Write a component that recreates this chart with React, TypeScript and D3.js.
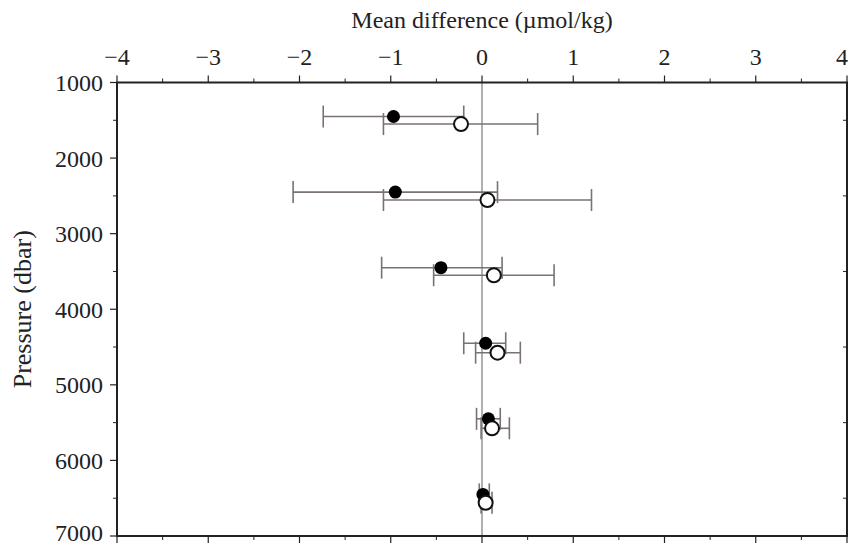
import React from "react";
import * as d3 from "d3";

const pressureFilled = [1450, 2450, 3450, 4450, 5450, 6450];
const meanFilled = [-0.97, -0.95, -0.45, 0.04, 0.07, 0.01];
const loFilled = [-1.74, -2.07, -1.10, -0.20, -0.06, -0.03];
const hiFilled = [-0.20, 0.17, 0.22, 0.26, 0.20, 0.08];

const pressureOpen = [1550, 2555, 3550, 4575, 5575, 6560];
const meanOpen = [-0.23, 0.06, 0.13, 0.17, 0.11, 0.04];
const loOpen = [-1.08, -1.08, -0.53, -0.07, -0.01, -0.01];
const hiOpen = [0.61, 1.20, 0.79, 0.42, 0.30, 0.11];

const xTicks = [-4, -3, -2, -1, 0, 1, 2, 3, 4];
const yTicks = [1000, 2000, 3000, 4000, 5000, 6000, 7000];

const W = 849;
const H = 546;
const left = 117;
const right = 847;
const top = 82.5;
const bottom = 536;

export default function App() {
  const x = d3.scaleLinear().domain([-4, 4]).range([left, right]);
  const y = d3.scaleLinear().domain([1000, 7000]).range([top, bottom]);
  const xMinor = d3.range(-3.5, 4, 1);
  const yMinor = d3.range(1500, 7000, 1000);
  const font = "Liberation Serif";
  const axisColor = "#222";
  const barColor = "#7a7272";
  const cap = 11;

  const bars = (p: number[], lo: number[], hi: number[], key: string) =>
    p.map((pv, i) => (
      <g key={key + i} stroke={barColor} strokeWidth={1.6}>
        <line x1={x(lo[i])} x2={x(hi[i])} y1={y(pv)} y2={y(pv)} />
        <line x1={x(lo[i])} x2={x(lo[i])} y1={y(pv) - cap} y2={y(pv) + cap} />
        <line x1={x(hi[i])} x2={x(hi[i])} y1={y(pv) - cap} y2={y(pv) + cap} />
      </g>
    ));

  return (
    <svg width={W} height={H} style={{ position: "absolute", left: 0, top: 0 }}>
      <rect x={0} y={0} width={W} height={H} fill="#fff" />
      {/* zero line */}
      <line x1={x(0)} x2={x(0)} y1={top} y2={bottom} stroke="#b0b0b0" strokeWidth={2} />
      {/* error bars */}
      {bars(pressureFilled, loFilled, hiFilled, "f")}
      {bars(pressureOpen, loOpen, hiOpen, "o")}
      {/* markers */}
      {pressureFilled.map((pv, i) => (
        <circle key={"fc" + i} cx={x(meanFilled[i])} cy={y(pv)} r={6.5} fill="#000" />
      ))}
      {pressureOpen.map((pv, i) => (
        <circle key={"oc" + i} cx={x(meanOpen[i])} cy={y(pv)} r={7} fill="#fff" stroke="#111" strokeWidth={2} />
      ))}
      {/* frame */}
      <rect x={left} y={top} width={right - left} height={bottom - top} fill="none" stroke={axisColor} strokeWidth={2} />
      {/* top & bottom ticks */}
      {xTicks.map((t) => (
        <g key={"xt" + t} stroke={axisColor} strokeWidth={1.2}>
          <line x1={x(t)} x2={x(t)} y1={top} y2={top - 7} />
          <line x1={x(t)} x2={x(t)} y1={bottom} y2={bottom + 7} />
        </g>
      ))}
      {xMinor.map((t) => (
        <g key={"xm" + t} stroke={axisColor} strokeWidth={1}>
          <line x1={x(t)} x2={x(t)} y1={top} y2={top - 4} />
          <line x1={x(t)} x2={x(t)} y1={bottom} y2={bottom + 4} />
        </g>
      ))}
      {xTicks.map((t) => {
        const last = t === 4;
        return (
          <text
            key={"xl" + t}
            x={last ? W - 1 : x(t)}
            y={65}
            textAnchor={last ? "end" : "middle"}
            fontFamily={font}
            fontSize={24}
            fill="#222"
          >
            {t < 0 ? "\u2212" + Math.abs(t) : String(t)}
          </text>
        );
      })}
      {/* left ticks */}
      {yTicks.map((t) => (
        <line key={"yt" + t} x1={left} x2={left - 7} y1={y(t)} y2={y(t)} stroke={axisColor} strokeWidth={1.2} />
      ))}
      {yMinor.map((t) => (
        <g key={"ym" + t} stroke={axisColor} strokeWidth={1}>
          <line x1={left} x2={left - 4} y1={y(t)} y2={y(t)} />
          <line x1={right} x2={right - 4} y1={y(t)} y2={y(t)} />
        </g>
      ))}
      {yTicks.map((t) => (
        <text
          key={"yl" + t}
          x={left - 14}
          y={Math.min(y(t) + 8.5, H - 5)}
          textAnchor="end"
          fontFamily={font}
          fontSize={24}
          fill="#222"
        >
          {t}
        </text>
      ))}
      {/* axis titles */}
      <text x={x(0)} y={28} textAnchor="middle" fontFamily={font} fontSize={24} fill="#222">
        Mean difference (µmol/kg)
      </text>
      <text
        transform={`translate(31, ${(top + bottom) / 2}) rotate(-90)`}
        textAnchor="middle"
        fontFamily={font}
        fontSize={26}
        fill="#222"
      >
        Pressure (dbar)
      </text>
    </svg>
  );
}
